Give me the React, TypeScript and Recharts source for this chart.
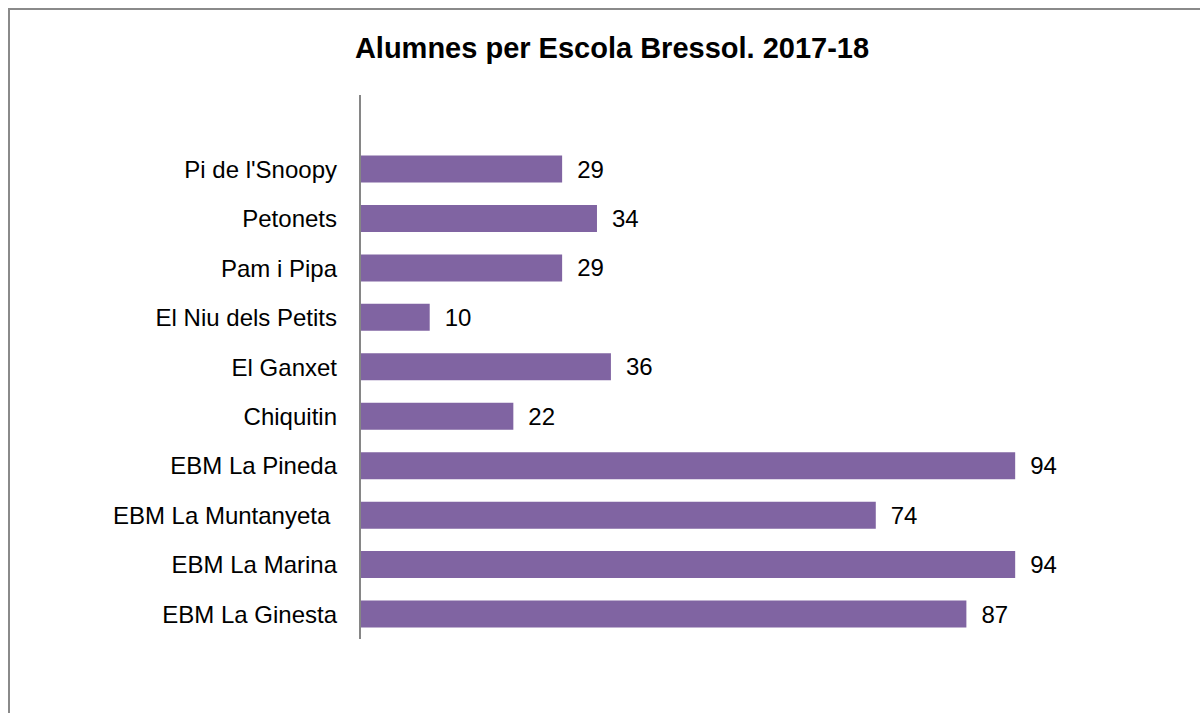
import React from 'react'
import { BarChart, Bar, XAxis, YAxis, LabelList } from 'recharts'

const escoles = [
  'Pi de l\'Snoopy',
  'Petonets',
  'Pam i Pipa',
  'El Niu dels Petits',
  'El Ganxet',
  'Chiquitin',
  'EBM La Pineda',
  'EBM La Muntanyeta ',
  'EBM La Marina',
  'EBM La Ginesta',
]
const alumnes = [29, 34, 29, 10, 36, 22, 94, 74, 94, 87]

const data = escoles.map((nom, i) => ({ nom, alumnes: alumnes[i] }))

const FONT = '"Liberation Sans", Arial, sans-serif'

const CategoryTick = ({ x, y, payload }: any) => (
  <text
    x={x - 15}
    y={y}
    textAnchor="end"
    dominantBaseline="central"
    fontSize={24}
    fontFamily={FONT}
    fill="#000"
    style={{ whiteSpace: 'pre' }}
  >
    {payload.value}
  </text>
)

export default function App() {
  return (
    <div style={{ position: 'relative', width: 1200, height: 713, overflow: 'hidden' }}>
      <style>{'body{margin:0;overflow:hidden}'}</style>
      <div
        style={{
          position: 'absolute',
          left: 8,
          top: 8,
          width: 1220,
          height: 730,
          border: '2px solid #8a8a8a',
          boxSizing: 'border-box',
        }}
      />
      <div
        style={{
          position: 'absolute',
          left: 0,
          top: 32,
          width: 1224,
          textAlign: 'center',
          fontFamily: FONT,
          fontWeight: 'bold',
          fontSize: 29,
          lineHeight: '32px',
          color: '#000',
        }}
      >
        Alumnes per Escola Bressol. 2017-18
      </div>
      <div style={{ position: 'absolute', left: 0, top: 0 }}>
        <BarChart
          width={1200}
          height={713}
          layout="vertical"
          data={data}
          margin={{ top: 95, right: 143, bottom: 74, left: 0 }}
        >
          <XAxis type="number" domain={[0, 100]} hide />
          <YAxis
            type="category"
            dataKey="nom"
            width={360}
            padding={{ top: 49.5, bottom: 0 }}
            axisLine={{ stroke: '#868686', strokeWidth: 2 }}
            tickLine={false}
            tick={<CategoryTick />}
            interval={0}
          />
          <Bar dataKey="alumnes" fill="#8064A2" barSize={27} isAnimationActive={false}>
            <LabelList
              dataKey="alumnes"
              position="right"
              offset={15}
              fill="#000"
              fontSize={24}
              fontFamily={FONT}
            />
          </Bar>
        </BarChart>
      </div>
    </div>
  )
}
